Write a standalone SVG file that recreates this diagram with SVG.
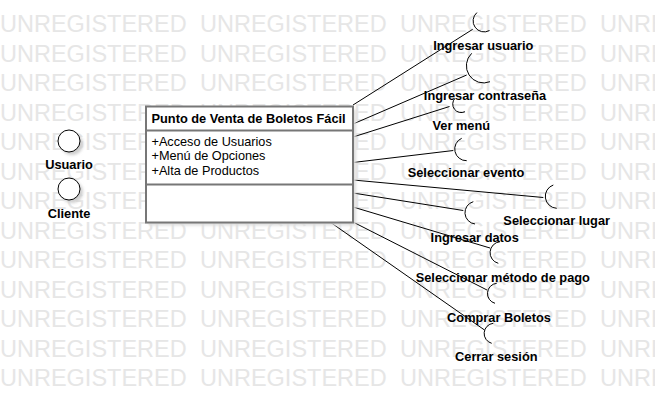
<svg xmlns="http://www.w3.org/2000/svg" width="655" height="410" viewBox="0 0 655 410">
<style>
.wm{font-family:"Liberation Sans",Arial,sans-serif;font-size:23.5px;fill:#e6e6e6}
.lbl{font-family:"Liberation Sans",Arial,sans-serif;font-size:12.8px;font-weight:bold;fill:#000;text-anchor:middle}
.title{font-family:"Liberation Sans",Arial,sans-serif;font-size:12.8px;font-weight:bold;fill:#000}
.attr{font-family:"Liberation Sans",Arial,sans-serif;font-size:12.7px;fill:#000}
.uc{fill:none;stroke:#000;stroke-width:1}
.conn line{stroke:#000;stroke-width:1}
.box{fill:#fff;stroke:#777;stroke-width:2}
.sep{stroke:#777;stroke-width:2}
.actor{fill:#fff;stroke:#000;stroke-width:1}
</style>
<defs>
<filter id="sh" x="-50%" y="-50%" width="200%" height="200%"><feGaussianBlur stdDeviation="1.5"/></filter>
</defs>
<rect width="655" height="410" fill="#fff"/>
<g id="watermark">
<text class="wm" y="32"><tspan x="0">UNREGISTERED</tspan><tspan x="200">UNREGISTERED</tspan><tspan x="400">UNREGISTERED</tspan><tspan x="600">UNREGISTERED</tspan></text>
<text class="wm" y="61.5"><tspan x="0">UNREGISTERED</tspan><tspan x="200">UNREGISTERED</tspan><tspan x="400">UNREGISTERED</tspan><tspan x="600">UNREGISTERED</tspan></text>
<text class="wm" y="91"><tspan x="0">UNREGISTERED</tspan><tspan x="200">UNREGISTERED</tspan><tspan x="400">UNREGISTERED</tspan><tspan x="600">UNREGISTERED</tspan></text>
<text class="wm" y="120.5"><tspan x="0">UNREGISTERED</tspan><tspan x="200">UNREGISTERED</tspan><tspan x="400">UNREGISTERED</tspan><tspan x="600">UNREGISTERED</tspan></text>
<text class="wm" y="150"><tspan x="0">UNREGISTERED</tspan><tspan x="200">UNREGISTERED</tspan><tspan x="400">UNREGISTERED</tspan><tspan x="600">UNREGISTERED</tspan></text>
<text class="wm" y="179.5"><tspan x="0">UNREGISTERED</tspan><tspan x="200">UNREGISTERED</tspan><tspan x="400">UNREGISTERED</tspan><tspan x="600">UNREGISTERED</tspan></text>
<text class="wm" y="209"><tspan x="0">UNREGISTERED</tspan><tspan x="200">UNREGISTERED</tspan><tspan x="400">UNREGISTERED</tspan><tspan x="600">UNREGISTERED</tspan></text>
<text class="wm" y="238.5"><tspan x="0">UNREGISTERED</tspan><tspan x="200">UNREGISTERED</tspan><tspan x="400">UNREGISTERED</tspan><tspan x="600">UNREGISTERED</tspan></text>
<text class="wm" y="268"><tspan x="0">UNREGISTERED</tspan><tspan x="200">UNREGISTERED</tspan><tspan x="400">UNREGISTERED</tspan><tspan x="600">UNREGISTERED</tspan></text>
<text class="wm" y="297.5"><tspan x="0">UNREGISTERED</tspan><tspan x="200">UNREGISTERED</tspan><tspan x="400">UNREGISTERED</tspan><tspan x="600">UNREGISTERED</tspan></text>
<text class="wm" y="327"><tspan x="0">UNREGISTERED</tspan><tspan x="200">UNREGISTERED</tspan><tspan x="400">UNREGISTERED</tspan><tspan x="600">UNREGISTERED</tspan></text>
<text class="wm" y="356.5"><tspan x="0">UNREGISTERED</tspan><tspan x="200">UNREGISTERED</tspan><tspan x="400">UNREGISTERED</tspan><tspan x="600">UNREGISTERED</tspan></text>
<text class="wm" y="386"><tspan x="0">UNREGISTERED</tspan><tspan x="200">UNREGISTERED</tspan><tspan x="400">UNREGISTERED</tspan><tspan x="600">UNREGISTERED</tspan></text>
</g>
<g id="connectors" class="conn">
<line x1="353" y1="105" x2="472.7" y2="29.3"/>
<line x1="353" y1="124" x2="466.7" y2="75"/>
<line x1="353" y1="137" x2="449.5" y2="106.5"/>
<line x1="353" y1="162.5" x2="453.3" y2="150.5"/>
<line x1="353" y1="180" x2="543.3" y2="197.5"/>
<line x1="353" y1="193" x2="463.3" y2="210.5"/>
<line x1="353" y1="207" x2="490" y2="248"/>
<line x1="353" y1="222" x2="487" y2="290"/>
<line x1="330" y1="222" x2="484.5" y2="330"/>
</g>
<g id="uc-ingresar-usuario"><path class="uc" d="M476.9,12.6 A11,11 0 0 0 489.5,30.5"/><text class="lbl" x="483.3" y="49.5">Ingresar usuario</text></g>
<g id="uc-ingresar-contrasena"><path class="uc" d="M471.7,53.3 A17.2,17.2 0 0 0 490,81.7"/><text class="lbl" x="485" y="100">Ingresar contraseña</text></g>
<g id="uc-ver-menu"><path class="uc" d="M455,98.3 A8.5,8.5 0 0 0 465,111.7"/><text class="lbl" x="461.3" y="129.5">Ver menú</text></g>
<g id="uc-seleccionar-evento"><path class="uc" d="M461.7,138.3 A11.7,11.7 0 0 0 466.7,160.7"/><text class="lbl" x="466" y="177">Seleccionar evento</text></g>
<g id="uc-seleccionar-lugar"><path class="uc" d="M553.3,185 A12,12 0 0 0 556.7,208.3"/><text class="lbl" x="556.7" y="225">Seleccionar lugar</text></g>
<g id="uc-ingresar-datos"><path class="uc" d="M473.3,201.7 A11.4,11.4 0 0 0 475,224"/><text class="lbl" x="474.7" y="241.5">Ingresar datos</text></g>
<g id="uc-metodo-pago"><path class="uc" d="M500,241.7 A11,11 0 0 0 498.3,263.3"/><text class="lbl" x="502.8" y="282">Seleccionar método de pago</text></g>
<g id="uc-comprar-boletos"><path class="uc" d="M496.7,283.3 A10.2,10.2 0 0 0 495,303.3"/><text class="lbl" x="499" y="322">Comprar Boletos</text></g>
<g id="uc-cerrar-sesion"><path class="uc" d="M493.3,323.3 A10.2,10.2 0 0 0 491.7,343.3"/><text class="lbl" x="496.3" y="361">Cerrar sesión</text></g>
<g id="class-punto-venta">
<rect x="149" y="109.5" width="207" height="116" fill="#dcdcdc" filter="url(#sh)"/>
<rect class="box" x="146" y="106.5" width="207" height="116"/>
<line class="sep" x1="146" y1="130.5" x2="353" y2="130.5"/>
<line class="sep" x1="146" y1="184.5" x2="353" y2="184.5"/>
<text class="title" x="151.5" y="123">Punto de Venta de Boletos Fácil</text>
<text class="attr" x="151.5" y="145.5">+Acceso de Usuarios</text>
<text class="attr" x="151.5" y="160">+Menú de Opciones</text>
<text class="attr" x="151.5" y="174.5">+Alta de Productos</text>
</g>
<g id="actor-usuario">
<circle cx="72" cy="144" r="11" fill="#cfcfcf" filter="url(#sh)"/>
<circle class="actor" cx="69" cy="141" r="11"/>
<text class="lbl" x="69" y="169">Usuario</text>
</g>
<g id="actor-cliente">
<circle cx="72" cy="192" r="11" fill="#cfcfcf" filter="url(#sh)"/>
<circle class="actor" cx="69" cy="189" r="11"/>
<text class="lbl" x="69" y="217.5">Cliente</text>
</g>
</svg>
